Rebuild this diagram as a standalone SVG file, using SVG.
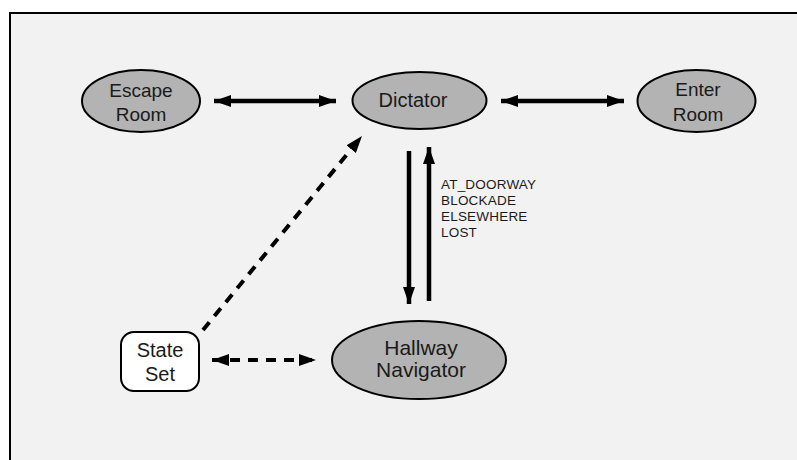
<svg xmlns="http://www.w3.org/2000/svg" width="797" height="460" viewBox="0 0 797 460">
<style>
.node ellipse{fill:#b3b3b3;stroke:#000;stroke-width:2}
.node rect{fill:#fff;stroke:#000;stroke-width:2}
.lbl{font-family:"Liberation Sans",Arial,sans-serif;font-size:20px;fill:#1a1a1a;text-anchor:middle}
.small{font-family:"Liberation Sans",Arial,sans-serif;font-size:13.5px;fill:#1a1a1a;letter-spacing:0.2px}
.solid{stroke:#000;stroke-width:4.5;fill:none}
.dash{stroke:#000;stroke-width:4;fill:none;stroke-dasharray:10 8}
</style>
<defs>
<marker id="ah" markerUnits="userSpaceOnUse" markerWidth="18" markerHeight="14" refX="17" refY="6" orient="auto-start-reverse">
<path d="M0,0 L17,6 L0,12 Z" fill="#000"/>
</marker>
</defs>
<rect x="0" y="0" width="797" height="460" fill="#fff"/>
<rect x="10" y="13" width="800" height="460" fill="#f2f2f2"/>
<path d="M10,460 V13 H797" fill="none" stroke="#000" stroke-width="2"/>
<g id="connectors">
<line class="solid" x1="214" y1="101" x2="336" y2="101" marker-start="url(#ah)" marker-end="url(#ah)"/>
<line class="solid" x1="501" y1="101" x2="624" y2="101" marker-start="url(#ah)" marker-end="url(#ah)"/>
<line class="solid" x1="409" y1="151" x2="409" y2="304" marker-end="url(#ah)"/>
<line class="solid" x1="429" y1="301" x2="429" y2="147" marker-end="url(#ah)"/>
<line class="dash" x1="203" y1="330" x2="362" y2="136" marker-end="url(#ah)"/>
<line class="dash" x1="212" y1="360" x2="316" y2="360" marker-start="url(#ah)" marker-end="url(#ah)"/>
<text class="small" x="441" y="189">AT_DOORWAY</text>
<text class="small" x="441" y="205">BLOCKADE</text>
<text class="small" x="441" y="221">ELSEWHERE</text>
<text class="small" x="441" y="237">LOST</text>
</g>
<g id="escape-room" class="node">
<ellipse cx="141" cy="101" rx="59" ry="31"/>
<text class="lbl" x="141" y="97" style="font-size:19px">Escape</text>
<text class="lbl" x="141" y="121" style="font-size:19px">Room</text>
</g>
<g id="dictator" class="node">
<ellipse cx="419.5" cy="100.5" rx="67" ry="28.5"/>
<text class="lbl" x="413" y="107">Dictator</text>
</g>
<g id="enter-room" class="node">
<ellipse cx="696.5" cy="101" rx="59" ry="31"/>
<text class="lbl" x="698" y="96" style="font-size:19px">Enter</text>
<text class="lbl" x="698" y="121" style="font-size:19px">Room</text>
</g>
<g id="hallway-navigator" class="node">
<ellipse cx="419" cy="360" rx="87" ry="39"/>
<text class="lbl" x="421" y="355" style="font-size:21px">Hallway</text>
<text class="lbl" x="421" y="377" style="font-size:21px">Navigator</text>
</g>
<g id="state-set" class="node">
<rect x="121" y="332" width="78" height="59" rx="13" ry="13"/>
<text class="lbl" x="160" y="357">State</text>
<text class="lbl" x="160" y="381">Set</text>
</g>
</svg>
